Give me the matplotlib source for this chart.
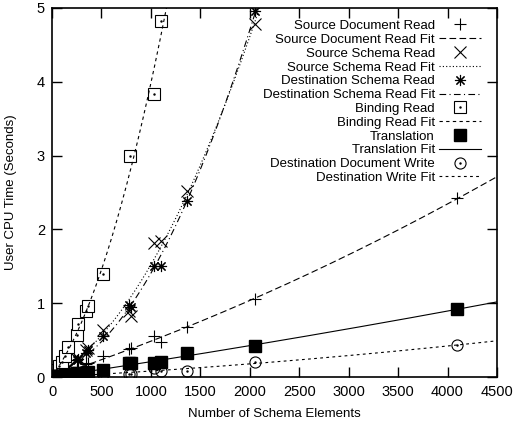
import numpy as np
import matplotlib
matplotlib.use("Agg")
import matplotlib.pyplot as plt

plt.rcParams["font.family"] = ["Liberation Sans", "DejaVu Sans"]

# schema sizes (number of elements)
x_all = [10, 20, 35, 50, 70, 98, 131, 159, 256, 266, 344, 367, 519, 780, 795,
         1030, 1099, 1370, 2053, 4100]

src_doc = [0.01, 0.01, 0.02, 0.02, 0.03, 0.04, 0.05, 0.06, 0.10, 0.11, 0.17,
           0.19, 0.28, 0.38, 0.39, 0.55, 0.47, 0.68, 1.06, 2.42]
src_schema = [0.01, 0.02, 0.03, 0.04, 0.06, 0.08, 0.10, 0.13, 0.24, 0.26,
              0.36, 0.39, 0.64, 0.89, 0.82, 1.82, 1.84, 2.52, 4.78]
dst_schema = [0.01, 0.02, 0.03, 0.04, 0.05, 0.07, 0.09, 0.12, 0.23, 0.25,
              0.33, 0.36, 0.56, 0.97, 0.95, 1.51, 1.51, 2.38, 4.96]
binding = [0.02, 0.04, 0.06, 0.10, 0.15, 0.21, 0.28, 0.41, 0.57, 0.72,
           0.89, 0.96, 1.39, 2.99, 3.83, 4.83]
binding_x = [10, 20, 35, 50, 70, 98, 131, 159, 256, 266, 344, 367, 519, 789,
             1030, 1099]
translation = [0.005, 0.01, 0.01, 0.015, 0.02, 0.02, 0.03, 0.03, 0.05, 0.05,
               0.06, 0.07, 0.095, 0.19, 0.19, 0.19, 0.21, 0.32, 0.42, 0.92]
dst_write = [0.0, 0.0, 0.005, 0.005, 0.01, 0.01, 0.01, 0.015, 0.02, 0.02,
             0.03, 0.03, 0.04, 0.04, 0.04, 0.12, 0.085, 0.085, 0.21, 0.43]


def fit(x, y, deg=2):
    c = np.polyfit(x, y, deg)
    xs = np.linspace(0, 4500, 400)
    return xs, np.polyval(c, xs)


fig = plt.figure(figsize=(5.13, 4.21), dpi=100)
ax = fig.add_axes([0.1014, 0.1045, 0.8674, 0.8765])

lw = 0.8
ms = 8
handles = []

h = ax.plot(x_all, src_doc, ls="none", marker="+", ms=ms, mew=lw, color="k")[0]
handles.append(h)
h = ax.plot(*fit(x_all, src_doc), ls=(0, (6, 3)), lw=lw, color="k")[0]
handles.append(h)

h = ax.plot(x_all[:19], src_schema, ls="none", marker="x", ms=ms, mew=lw,
            color="k")[0]
handles.append(h)
h = ax.plot(*fit(x_all[:19], src_schema), ls=(0, (1, 2)), lw=lw, color="k")[0]
handles.append(h)

h = ax.plot(x_all[:19], dst_schema, ls="none", marker=(8, 2, 0), ms=ms,
            mew=lw, color="k")[0]
handles.append(h)
h = ax.plot(*fit(x_all[:19], dst_schema), ls=(0, (6, 3, 1, 3)), lw=lw,
            color="k")[0]
handles.append(h)

h1 = ax.plot(binding_x, binding, ls="none", marker="s", ms=ms, mew=lw,
             mfc="white", color="k")[0]
h2 = ax.plot(binding_x, binding, ls="none", marker=".", ms=1.5, color="k")[0]
handles.append((h1, h2))
h = ax.plot(*fit(binding_x, binding), ls=(0, (3, 3)), lw=lw, color="k")[0]
handles.append(h)

h = ax.plot(x_all, translation, ls="none", marker="s", ms=ms, color="k")[0]
handles.append(h)
h = ax.plot(*fit(x_all, translation), ls="-", lw=lw, color="k")[0]
handles.append(h)

h1 = ax.plot(x_all, dst_write, ls="none", marker="o", ms=ms, mew=lw,
             mfc="none", color="k")[0]
h2 = ax.plot(x_all, dst_write, ls="none", marker=".", ms=1.5, color="k")[0]
handles.append((h1, h2))
h = ax.plot(*fit(x_all, dst_write), ls=(0, (2.5, 3)), lw=lw, color="k")[0]
handles.append(h)

labels = ["Source Document Read", "Source Document Read Fit",
          "Source Schema Read", "Source Schema Read Fit",
          "Destination Schema Read", "Destination Schema Read Fit",
          "Binding Read", "Binding Read Fit", "Translation", "Translation Fit",
          "Destination Document Write", "Destination Write Fit"]

ax.set_xlim(0, 4500)
ax.set_ylim(0, 5)
ax.set_xticks(np.arange(0, 4501, 500))
ax.set_yticks(np.arange(0, 6, 1))
ax.tick_params(direction="in", top=True, right=True, length=7, width=1,
               labelsize=10.5)
ax.tick_params(axis="x", pad=6)
ax.tick_params(axis="y", pad=5)
for s in ax.spines.values():
    s.set_linewidth(1.2)
ax.set_xlabel("Number of Schema Elements", fontsize=9.5, labelpad=6)
ax.set_ylabel("User CPU Time (Seconds)", fontsize=9.5, labelpad=14)

ax.legend(handles, labels, loc="upper right", frameon=False, markerfirst=False,
          fontsize=9.5, labelspacing=0.12, handlelength=3.2, handletextpad=0.3,
          borderaxespad=0.3, bbox_to_anchor=(0.985, 0.993))

fig.savefig("out.png", dpi=100)
